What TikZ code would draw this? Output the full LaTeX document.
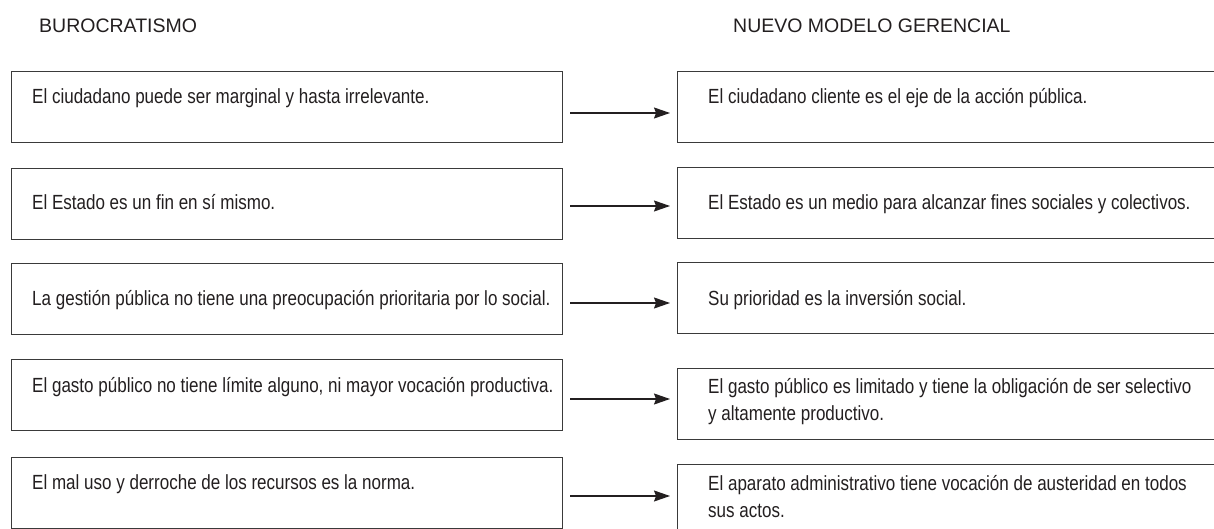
\documentclass[tikz,border=0pt]{standalone}
\usepackage{fontspec}
\setmainfont{Liberation Sans}
\newfontfamily\bodyfont{Liberation Sans}[FakeStretch=0.83]
\usetikzlibrary{arrows.meta,calc}
\definecolor{ink}{HTML}{231F20}
\definecolor{rule}{HTML}{3A3A3A}
\begin{document}
\begin{tikzpicture}[x=1pt,y=-1pt,
  box/.style={draw=rule,line width=1.4pt,rectangle,inner sep=0pt,anchor=north west},
  lbox/.style={box,minimum width=551pt,minimum height=71pt},
  rbox/.style={box,minimum width=580pt,minimum height=71pt},
  txt/.style={anchor=base west,inner sep=0pt,text=ink,font=\bodyfont\fontsize{20.5}{27}\selectfont,align=left},
  head/.style={anchor=base west,inner sep=0pt,text=ink,font=\fontsize{19.5}{23}\selectfont},
  arr/.style={draw=ink,line width=1.2pt,-{Stealth[length=16pt,width=11pt,inset=2pt]}}]
\clip (0,0) rectangle (1214,529);
\fill[white] (0,0) rectangle (1214,529);

\node[head] (h1) at (39,33) {BUROCRATISMO};
\node[head] (h2) at (733,33) {NUEVO MODELO GERENCIAL};

% left boxes
\node[lbox] (L1) at (11,71) {};
\node[lbox] (L2) at (11,168) {};
\node[lbox] (L3) at (11,263) {};
\node[lbox] (L4) at (11,359) {};
\node[lbox] (L5) at (11,457) {};
% right boxes
\node[rbox] (R1) at (677,71) {};
\node[rbox] (R2) at (677,167) {};
\node[rbox] (R3) at (677,262) {};
\node[rbox] (R4) at (677,368) {};
\node[rbox] (R5) at (677,464) {};

% left texts
\node[txt] (t1) at (32,104) {El ciudadano puede ser marginal y hasta irrelevante.};
\node[txt] (t2) at (32,210) {El Estado es un fin en sí mismo.};
\node[txt] (t3) at (32,305) {La gestión pública no tiene una preocupación prioritaria por lo social.};
\node[txt] (t4) at (32,392) {El gasto público no tiene límite alguno, ni mayor vocación productiva.};
\node[txt] (t5) at (32,489) {El mal uso y derroche de los recursos es la norma.};
% right texts (base = last line)
\node[txt] (u1) at (708,104) {El ciudadano cliente es el eje de la acción pública.};
\node[txt] (u2) at (708,210) {El Estado es un medio para alcanzar fines sociales y colectivos.};
\node[txt] (u3) at (708,305) {Su prioridad es la inversión social.};
\node[txt] (u4) at (708,420) {El gasto público es limitado y tiene la obligación de ser selectivo\\y altamente productivo.};
\node[txt] (u5) at (708,517) {El aparato administrativo tiene vocación de austeridad en todos\\sus actos.};

% arrows
\draw[arr] ([xshift=7pt]L1.east |- 0,113) -- ([xshift=-7pt]R1.west |- 0,113);
\draw[arr] ([xshift=7pt]L2.east |- 0,206) -- ([xshift=-7pt]R2.west |- 0,206);
\draw[arr] ([xshift=7pt]L3.east |- 0,303) -- ([xshift=-7pt]R3.west |- 0,303);
\draw[arr] ([xshift=7pt]L4.east |- 0,399) -- ([xshift=-7pt]R4.west |- 0,399);
\draw[arr] ([xshift=7pt]L5.east |- 0,496) -- ([xshift=-7pt]R5.west |- 0,496);
\end{tikzpicture}
\end{document}
